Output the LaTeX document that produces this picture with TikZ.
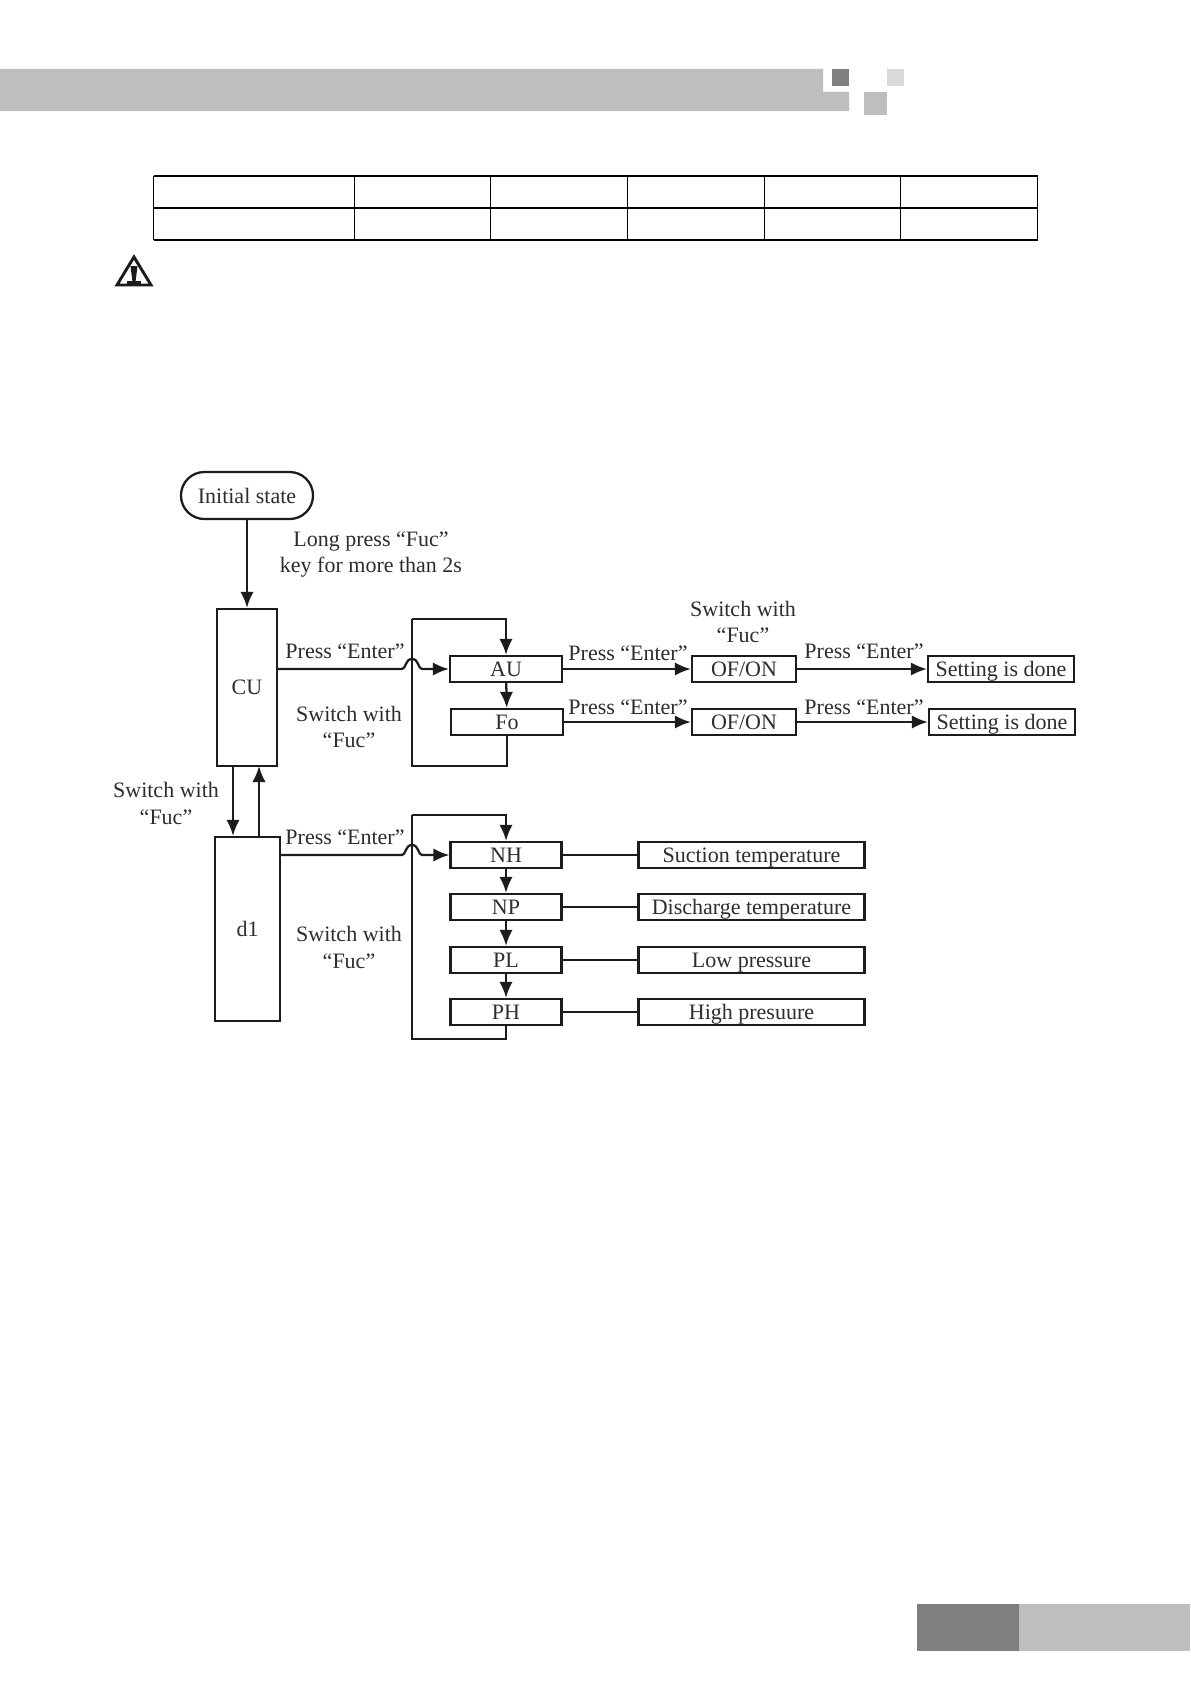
\documentclass[tikz,border=0pt]{standalone}
\usepackage{fontspec}
\setmainfont{Liberation Serif}
\usetikzlibrary{
  arrows.meta,
  calc
}
\definecolor{bandgray}{RGB}{190,190,190}
\definecolor{markgray}{RGB}{127,127,127}
\definecolor{palegray}{RGB}{217,217,217}
\definecolor{inkline}{RGB}{28,28,28}
\definecolor{inktext}{RGB}{45,45,45}
\tikzset{
  >={Latex[length=12pt,width=10pt]},
  flow/.style={->,line width=1.7pt,draw=inkline},
  tie/.style={line width=1.7pt,draw=inkline},
  smalllabel/.style={font=\fontsize{16.5}{20}\selectfont,align=center,text=inktext,inner sep=0pt},
  box/.style={
    smalllabel,
    draw=inkline,
    line width=1.7pt,
    text height=11.2pt,
    text depth=0pt
  },
  gridline/.style={line width=.8pt,draw=black}
}
\newcommand{\keybox}[5][]{%
  \node[box,minimum width=#4*.75pt,minimum height=.75pt*26,#1] (#2) at (#3) {#5};%
}

\begin{document}
\begin{tikzpicture}[x=.75pt,y=-.75pt]
  \useasboundingbox (0,0) rectangle (1190,1684);
  \fill[white] (0,0) rectangle (1190,1684);

  % Page header and footer.
  \fill[bandgray] (0,69) -- (823,69) -- (823,92) -- (849,92) -- (849,111) -- (0,111) -- cycle;
  \fill[markgray] (832,69) rectangle (849,86);
  \fill[palegray] (887,69) rectangle (904,86);
  \fill[bandgray] (864,92) rectangle (887,115);
  \fill[markgray] (917,1604) rectangle (1019,1651);
  \fill[bandgray] (1019,1604) rectangle (1190,1651);

  % Empty table.
  \foreach \y in {176,208,240} {
    \draw[gridline] (153.5,\y) -- (1037.5,\y);
  }
  \foreach \x in {153.5,354.5,490.5,627.5,764.5,900.5,1037.5} {
    \draw[gridline] (\x,176) -- (\x,240);
  }

  % Warning sign.
  \draw[line width=2.2pt,draw=inkline] (134,257) -- (151,285) -- (117,285) -- cycle;
  \fill[inkline] (130.5,266) -- (137.5,266) -- (135.5,282) -- (132.5,282) -- cycle;
  \fill[inkline] (127,281) rectangle (141,285);

  % Left column.
  \node[box,text height=,text depth=,rounded corners=17.5pt,minimum width=.75pt*132,minimum height=.75pt*47] (init) at (247,495.5) {Initial state};
  \keybox[minimum height=.75pt*157]{CU}{247,687.5}{60}{CU}
  \keybox[minimum height=.75pt*184]{dOne}{247.5,929}{65}{d1}
  \draw[flow] (init.south) -- (init.south |- CU.north);
  \coordinate (cuDown) at (233,766);
  \coordinate (cuUp) at (259,766);
  \draw[flow] (cuDown) -- (cuDown |- dOne.north);
  \draw[flow] (cuUp |- dOne.north) -- (cuUp);

  % Upper branch.
  \keybox{AU}{506,669}{112}{AU}
  \keybox{Fo}{507,722}{112}{Fo}
  \keybox{ofA}{744,669}{104}{OF/ON}
  \keybox{ofB}{744,722}{104}{OF/ON}
  \keybox{doneA}{1001,669}{146}{Setting is done}
  \keybox{doneB}{1002,722}{146}{Setting is done}
  \draw[flow] (AU) -- (Fo);
  \draw[flow] (AU) -- (ofA);
  \draw[flow] (Fo) -- (ofB);
  \draw[flow] (ofA) -- (doneA);
  \draw[flow] (ofB) -- (doneB);
  \coordinate (cuLoopA) at (412,766);
  \coordinate (cuLoopB) at (412,619);
  \draw[tie] (Fo.south) |- (cuLoopA) -- (cuLoopB);
  \draw[flow] (cuLoopB) -| (AU.north);

  % Lower branch.
  \foreach \code/\ypos/\reading in {
    NH/855/Suction temperature,
    NP/907/Discharge temperature,
    PL/960/Low pressure,
    PH/1012/High presuure} {
    \keybox{\code}{506,\ypos}{111}{\code}
    \keybox{val\code}{751.5,\ypos}{226}{\reading}
    \draw[tie] (\code) -- (val\code);
  }
  \draw[flow] (NH) -- (NP);
  \draw[flow] (NP) -- (PL);
  \draw[flow] (PL) -- (PH);
  \coordinate (dLoopA) at (412,1039);
  \coordinate (dLoopB) at (412,815);
  \draw[tie] (PH.south) |- (dLoopA) -- (dLoopB);
  \draw[flow] (dLoopB) -| (NH.north);

  % Hops over the loops.
  \foreach \from/\to/\ypos in {CU/AU/669,dOne/NH/855} {
    \coordinate (hopA) at (402,\ypos);
    \coordinate (hopB) at (422,\ypos);
    \draw[flow] (\from.east |- \to.west) -- (hopA)
      .. controls ($(hopA)+(4,0)$) and ($(hopA)+(3,-10)$) .. ($(hopA)+(10,-10)$)
      .. controls ($(hopB)+(-3,-10)$) and ($(hopB)+(-4,0)$) .. (hopB) -- (\to.west);
  }

  % Labels.
  \node[smalllabel] (longpress) at (371,554.5) {Long press “Fuc”\\key for more than 2s};
  \node[smalllabel] (enterA) at (345,651) {Press “Enter”};
  \node[smalllabel] (enterB) at (345,837) {Press “Enter”};
  \node[smalllabel] (switchA) at (349,727) {Switch with\\“Fuc”};
  \node[smalllabel] (switchB) at (349,947.5) {Switch with\\“Fuc”};
  \node[smalllabel] (switchC) at (166,803.5) {Switch with\\“Fuc”};
  \node[smalllabel] (switchD) at (743,622) {Switch with\\“Fuc”};
  \node[smalllabel] (enterC) at (628,653) {Press “Enter”};
  \node[smalllabel] (enterD) at (628,707) {Press “Enter”};
  \node[smalllabel] (enterE) at (864,651) {Press “Enter”};
  \node[smalllabel] (enterF) at (864,707) {Press “Enter”};
\end{tikzpicture}
\end{document}
